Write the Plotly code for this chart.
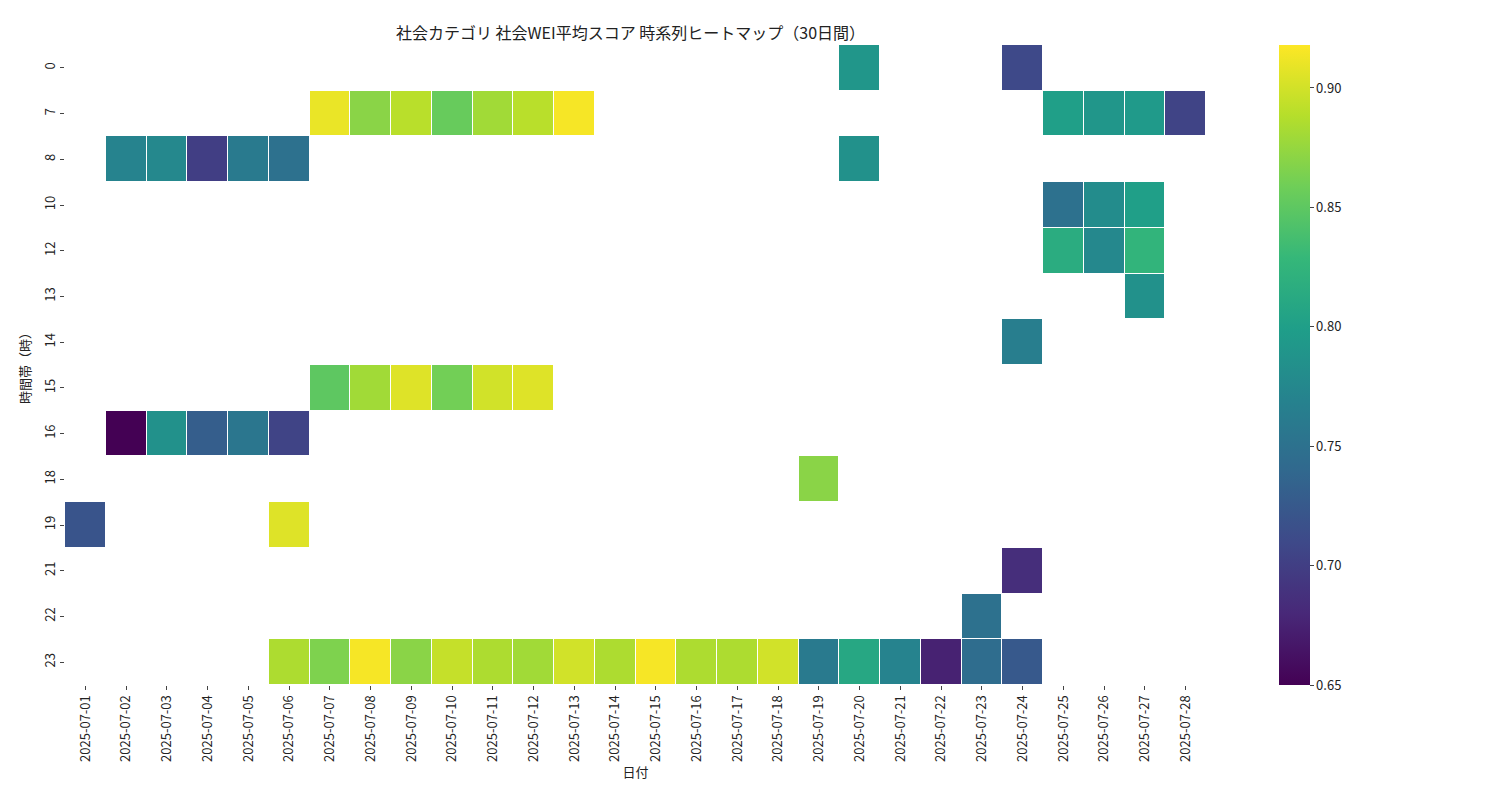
import plotly.graph_objects as go

dates = [f"2025-07-{d:02d}" for d in range(1, 29)]
hours = ["0", "7", "8", "10", "12", "13", "14", "15", "16", "18", "19", "21", "22", "23"]

# (hour, day) -> mean score
cells = {
    "0": {20: 0.79, 24: 0.71},
    "7": {7: 0.91, 8: 0.87, 9: 0.89, 10: 0.855, 11: 0.88, 12: 0.89, 13: 0.915,
          25: 0.80, 26: 0.79, 27: 0.795, 28: 0.705},
    "8": {2: 0.77, 3: 0.775, 4: 0.70, 5: 0.76, 6: 0.75, 20: 0.785},
    "10": {25: 0.75, 26: 0.78, 27: 0.80},
    "12": {25: 0.815, 26: 0.775, 27: 0.825},
    "13": {27: 0.785},
    "14": {24: 0.765},
    "15": {7: 0.85, 8: 0.88, 9: 0.905, 10: 0.86, 11: 0.90, 12: 0.905},
    "16": {2: 0.65, 3: 0.785, 4: 0.73, 5: 0.755, 6: 0.705},
    "18": {19: 0.87},
    "19": {1: 0.72, 6: 0.905},
    "21": {24: 0.685},
    "22": {23: 0.75},
    "23": {6: 0.885, 7: 0.865, 8: 0.915, 9: 0.87, 10: 0.895, 11: 0.885, 12: 0.88,
           13: 0.90, 14: 0.885, 15: 0.915, 16: 0.885, 17: 0.885, 18: 0.90,
           19: 0.76, 20: 0.81, 21: 0.77, 22: 0.675, 23: 0.745, 24: 0.725},
}

z = [[cells[h].get(d) for d in range(1, 29)] for h in hours]

font = "Noto Sans CJK JP"
fig = go.Figure(go.Heatmap(
    z=z, x=dates, y=hours, colorscale="Viridis", zmin=0.65, zmax=0.918,
    xgap=1, ygap=1, hoverongaps=False,
    colorbar=dict(x=1.064, xanchor="left", len=1.0, lenmode="fraction",
                  y=0.5, yanchor="middle", ypad=0, xpad=0, thickness=31,
                  outlinewidth=0, tickvals=[0.65, 0.70, 0.75, 0.80, 0.85, 0.90],
                  ticktext=["0.65", "0.70", "0.75", "0.80", "0.85", "0.90"],
                  ticks="outside", ticklen=4, tickfont=dict(size=13)),
))
fig.update_layout(
    width=1500, height=800, font=dict(family=font, color="#222"),
    plot_bgcolor="white", paper_bgcolor="white",
    title=dict(text="社会カテゴリ 社会WEI平均スコア 時系列ヒートマップ（30日間）",
               x=0.415, xanchor="center", y=0.975, font=dict(size=16)),
    margin=dict(l=57, r=302, t=37, b=123, autoexpand=False),
)
fig.update_xaxes(type="category", title=dict(text="日付", font=dict(size=13), standoff=4),
                 tickangle=-90, ticks="outside", ticklen=4, tickfont=dict(size=13),
                 showgrid=False)
fig.update_yaxes(type="category", autorange="reversed", title=dict(text="時間帯（時）", font=dict(size=13), standoff=6),
                 tickangle=-90, ticks="outside", ticklen=4, tickfont=dict(size=13),
                 showgrid=False)
fig.write_html("out.html")
